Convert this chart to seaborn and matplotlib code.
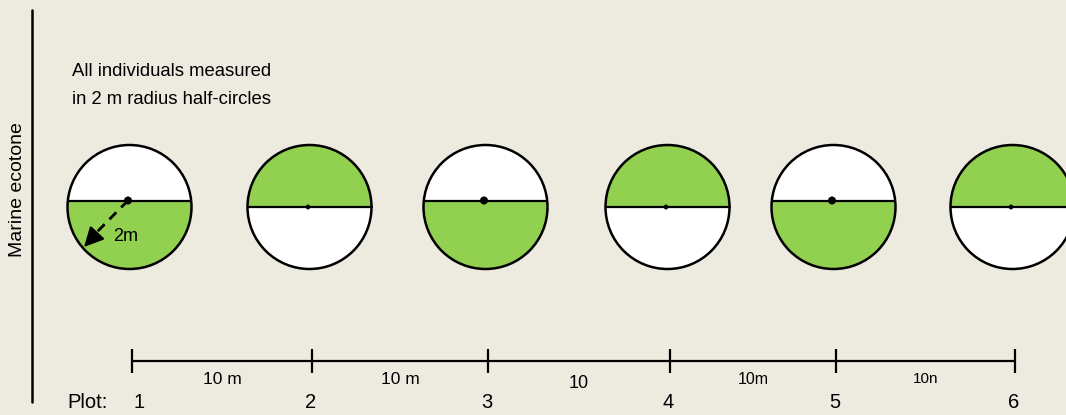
import numpy as np
import pandas as pd
import matplotlib
matplotlib.use("Agg")
import matplotlib.pyplot as plt
from matplotlib.patches import Circle, Rectangle
import seaborn as sns

# ---- data ----
plot_ids = ["1", "2", "3", "4", "5", "6"]
plot_pos = [132, 312, 488, 670, 836, 1015]          # transect tick positions
green_half = ["bottom", "top", "bottom", "top", "bottom", "top"]
segment_labels = ["10 m", "10 m", "10", "10m", "10n"]
note_lines = ["All individuals measured", "in 2 m radius half-circles"]
side_label = "Marine ecotone"
radius_label = "2m"

BG = "#EDEAE0"
GREEN = "#92D050"

sns.set_theme(style="white", rc={"axes.facecolor": BG, "figure.facecolor": BG,
                                 "text.color": "black"})
plt.rcParams["font.family"] = ["Liberation Sans", "DejaVu Sans"]

fig = plt.figure(figsize=(10.66, 4.15), dpi=100)
ax = fig.add_axes([0, 0, 1, 1])
ax.set_xlim(0, 1066)
ax.set_ylim(415, 0)
ax.axis("off")

R = 62
CY = 207
for pos, half in zip(plot_pos, green_half):
    cx = pos - 2.5
    chord = CY - 6.5 if half == "bottom" else CY
    base = Circle((cx, CY), R, fc="white", ec="none", zorder=2)
    ax.add_patch(base)
    if half == "bottom":
        rect = Rectangle((cx - R - 2, chord), 2 * R + 4, CY + R - chord + 2,
                         fc=GREEN, ec="none", zorder=3)
    else:
        rect = Rectangle((cx - R - 2, CY - R - 2), 2 * R + 4, chord - (CY - R) + 2,
                         fc=GREEN, ec="none", zorder=3)
    ax.add_patch(rect)
    rect.set_clip_path(base)
    ax.add_patch(Circle((cx, CY), R, fc="none", ec="black", lw=1.8, zorder=5))
    hw = np.sqrt(R ** 2 - (CY - chord) ** 2)
    ax.plot([cx - hw, cx + hw], [chord, chord], color="black", lw=1.6, zorder=5)

# center dots
dots = pd.DataFrame({
    "x": [p - 4 for p in plot_pos],
    "y": [CY - 6.5 if h == "bottom" else CY for h in green_half],
    "s": [30 if h == "bottom" else 10 for h in green_half],
})
sns.scatterplot(data=dots, x="x", y="y", size="s", sizes=(10, 30), color="black",
                edgecolor="black", legend=False, ax=ax, zorder=6)

# radius arrow on first circle
c0x, c0y = plot_pos[0] - 4, CY - 6.5
ax.plot([c0x, 95], [c0y, 234], color="black", lw=2, ls=(0, (3.5, 2.5)), zorder=6)
ax.annotate("", xy=(84, 247), xytext=(97, 233),
            arrowprops=dict(arrowstyle="-|>,head_length=1.0,head_width=0.5",
                            color="black", lw=1.5, shrinkA=0, shrinkB=0), zorder=7)
ax.text(113, 236, radius_label, fontsize=13, ha="left", va="center", zorder=7)

# transect scale bar
bar = pd.DataFrame({"x": [plot_pos[0], plot_pos[-1]], "y": [361, 361]})
sns.lineplot(data=bar, x="x", y="y", color="black", lw=1.6, ax=ax)
ax.vlines(plot_pos, 349, 373, color="black", lw=1.6)
seg_y = [379, 379, 383, 379, 379]
seg_fs = [12.5, 12.5, 13, 11.5, 11]
for i, lab in enumerate(segment_labels):
    mid = (plot_pos[i] + plot_pos[i + 1]) / 2
    ax.text(mid, seg_y[i], lab, fontsize=seg_fs[i], ha="center", va="center")

ax.text(67, 402, "Plot:", fontsize=14.5, ha="left", va="center")
for i, (pid, pos) in enumerate(zip(plot_ids, plot_pos)):
    ax.text(pos - 1.5 + (9 if i == 0 else 0), 402, pid, fontsize=14.5,
            ha="center", va="center")

# side label and vertical line
ax.plot([32, 32], [10, 402], color="black", lw=1.8)
ax.text(18, 190, side_label, fontsize=14, rotation=90, ha="center", va="center")

ax.text(72, 71, note_lines[0], fontsize=13.3, ha="left", va="center")
ax.text(72, 99, note_lines[1], fontsize=13.3, ha="left", va="center")

ax.set_xlabel("")
ax.set_ylabel("")
fig.savefig("out.png", dpi=100, facecolor=BG)
